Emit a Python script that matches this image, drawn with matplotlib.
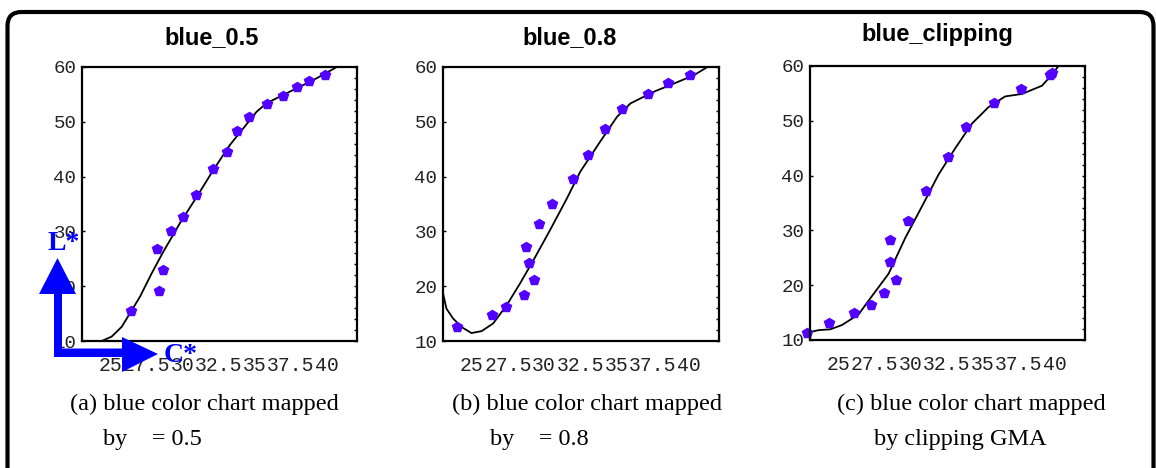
import matplotlib.pyplot as plt
from matplotlib.patches import FancyBboxPatch, Polygon
from matplotlib.ticker import MultipleLocator, FixedLocator

W, H = 1156, 468

# --- data ---
titles = ['blue_0.5', 'blue_0.8', 'blue_clipping']
x_ticks = [25, 27.5, 30, 32.5, 35, 37.5, 40]
x_tick_labels = ['25', '27.5', '30', '32.5', '35', '37.5', '40']
y_ticks = [10, 20, 30, 40, 50, 60]

a_pts_x = [26.4, 28.2, 28.65, 28.35, 29.15, 30.0, 30.95, 32.1, 33.05, 33.75, 34.6, 35.85, 36.95, 37.95, 38.75, 39.9]
a_pts_y = [15.5, 26.8, 22.9, 19.2, 30.1, 32.7, 36.7, 41.4, 44.4, 48.4, 50.9, 53.2, 54.7, 56.4, 57.5, 58.6]
a_curve_x = [24.37, 25.06, 25.76, 26.33, 27.03, 27.84, 28.65, 29.8, 30.97, 32.12, 33.28, 34.2, 35.13, 35.83, 37.2, 39.06, 40.7]
a_curve_y = [10.0, 10.8, 12.6, 15.05, 18.1, 22.35, 26.3, 31.5, 36.3, 41.2, 45.8, 48.8, 51.85, 53.4, 55.2, 57.6, 60.0]

b_pts_x = [23.97, 26.36, 27.33, 28.6, 29.3, 28.97, 28.72, 29.67, 30.53, 32.03, 33.0, 34.23, 35.39, 37.17, 38.58, 40.08]
b_pts_y = [12.55, 14.8, 16.26, 18.45, 21.08, 24.3, 27.2, 31.3, 34.95, 39.6, 44.0, 48.7, 52.4, 55.0, 57.1, 58.6]
b_curve_x = [23.0, 23.24, 23.7, 24.28, 24.97, 25.67, 26.47, 27.4, 28.33, 29.25, 30.4, 31.57, 32.5, 33.88, 35.04, 35.97, 37.6, 39.0, 40.36, 41.3]
b_curve_y = [18.7, 15.9, 14.1, 12.55, 11.45, 11.8, 13.2, 16.5, 20.5, 24.7, 30.2, 36.0, 40.9, 46.4, 50.9, 53.35, 55.5, 57.0, 58.5, 60.0]

c_pts_x = [22.8, 24.29, 26.08, 27.21, 28.16, 28.99, 28.58, 28.58, 29.83, 31.08, 32.6, 33.85, 35.8, 37.63, 39.69, 39.8]
c_pts_y = [11.35, 13.17, 15.0, 16.45, 18.63, 20.87, 24.15, 28.16, 31.75, 37.2, 43.4, 48.9, 53.24, 55.85, 58.4, 58.7]
c_curve_x = [23.02, 23.6, 24.41, 25.22, 26.38, 26.96, 28.46, 29.62, 30.78, 31.93, 33.09, 34.25, 35.4, 36.56, 37.72, 39.11, 39.8, 40.26]
c_curve_y = [11.46, 11.8, 11.95, 12.73, 14.68, 16.8, 22.1, 28.65, 34.4, 40.2, 45.0, 49.5, 52.5, 54.45, 54.9, 56.4, 58.4, 60.0]

captions = [('(a) blue color chart mapped', 'by    = 0.5'),
            ('(b) blue color chart mapped', 'by    = 0.8'),
            ('(c) blue color chart mapped', 'by clipping GMA')]

pts = [(a_pts_x, a_pts_y), (b_pts_x, b_pts_y), (c_pts_x, c_pts_y)]
curves = [(a_curve_x, a_curve_y), (b_curve_x, b_curve_y), (c_curve_x, c_curve_y)]

# panel boxes in pixels: left, top, right, bottom
boxes = [(82, 67, 357, 341), (443, 67, 719, 341), (810, 66, 1085, 340)]
title_pos = [(212, 38), (570, 38), (937, 35)]
cap1_pos = [(204, 404), (587, 404), (971, 404)]
cap2_pos = [(103, 'left', 440), (490, 'left', 440), (960, 'center', 439)]

mono = 'Liberation Mono'
serif = 'Liberation Serif'
pcolor = '#5200ff'

fig = plt.figure(figsize=(W / 100, H / 100), dpi=100)

for i in range(3):
    l, t, r, b = boxes[i]
    ax = fig.add_axes([l / W, (H - b) / H, (r - l) / W, (b - t) / H])
    ax.plot(curves[i][0], curves[i][1], c='k', lw=1.3)
    ax.plot(pts[i][0], pts[i][1], ls='none', marker='p', ms=7.5,
            mfc=pcolor, mec=pcolor, clip_on=False)
    ax.set_xlim(23.0, 42.1)
    ax.set_ylim(10, 60)
    ax.xaxis.set_major_locator(FixedLocator(x_ticks))
    ax.set_xticklabels(x_tick_labels)
    ax.set_yticks(y_ticks)
    ax.yaxis.set_minor_locator(MultipleLocator(2))
    ax.tick_params(axis='y', which='major', direction='in', length=2.5, width=1,
                   left=True, right=True, pad=4)
    ax.tick_params(axis='y', which='minor', direction='in', length=2.5, width=1,
                   left=False, right=True)
    ax.tick_params(axis='x', length=0, pad=11)
    for lab in ax.get_xticklabels():
        lab.set_fontfamily(mono)
        lab.set_fontsize(14.2)
        lab.set_color('#222222')
    for lab in ax.get_yticklabels():
        lab.set_fontfamily(mono)
        lab.set_fontsize(13.8)
        lab.set_color('#222222')
    for s in ax.spines.values():
        s.set_linewidth(1.6)

# overlay in pixel coordinates for frame, titles, captions and the L*/C* arrows
ov = fig.add_axes([0, 0, 1, 1], zorder=10)
ov.set_xlim(0, W)
ov.set_ylim(H, 0)
ov.axis('off')
ov.patch.set_alpha(0)

ov.add_patch(FancyBboxPatch((7.5, 12), 1146, 480, boxstyle='round,pad=0,rounding_size=14',
                            fc='none', ec='k', lw=3, clip_on=False))

for i in range(3):
    ov.text(title_pos[i][0], title_pos[i][1], titles[i], ha='center', va='center',
            fontsize=17, fontweight='bold', family='Liberation Sans')
    ov.text(cap1_pos[i][0], cap1_pos[i][1], captions[i][0], ha='center', va='center',
            fontsize=17.5, family=serif)
    x2, ha2, y2 = cap2_pos[i]
    ov.text(x2, y2, captions[i][1], ha=ha2, va='center', fontsize=17.5, family=serif)

blue = '#0000ff'
# vertical L* arrow
ov.add_patch(Polygon([(54, 356), (62, 356), (62, 294), (76, 294), (57.5, 258), (39, 294), (54, 294)],
                     closed=True, fc=blue, ec='none'))
# horizontal C* arrow
ov.add_patch(Polygon([(54, 348.5), (122, 348.5), (122, 337), (158, 354), (122, 372), (122, 357), (54, 357)],
                     closed=True, fc=blue, ec='none'))
ov.text(64, 244, 'L*', color=blue, fontsize=20, fontweight='bold', family=serif,
        ha='center', va='center')
ov.text(181, 356, 'C*', color=blue, fontsize=20, fontweight='bold', family=serif,
        ha='center', va='center')

fig.savefig('out.png', dpi=100)
